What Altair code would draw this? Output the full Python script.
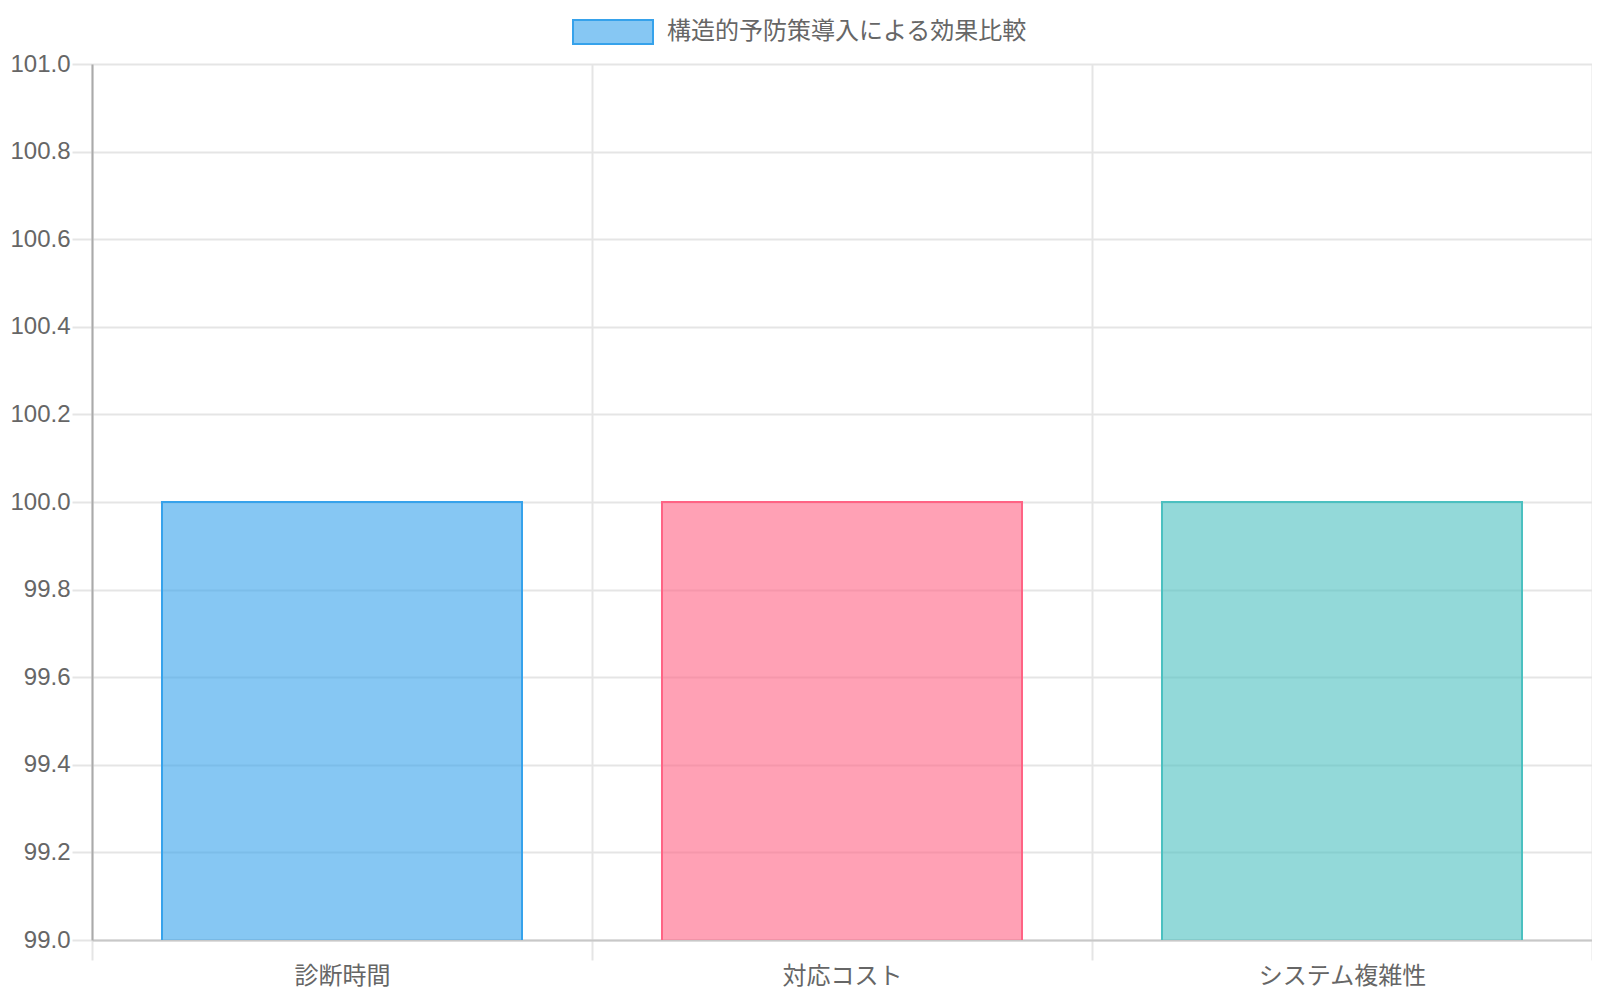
import altair as alt
import pandas as pd

categories = ["診断時間", "対応コスト", "システム複雑性"]
values = [100, 100, 100]
fill_colors = ["rgba(54, 162, 235, 0.6)", "rgba(255, 99, 132, 0.6)", "rgba(75, 192, 192, 0.6)"]
border_colors = ["rgb(54, 162, 235)", "rgb(255, 99, 132)", "rgb(75, 192, 192)"]
series_label = "構造的予防策導入による効果比較"
y_ticks = [99.0, 99.2, 99.4, 99.6, 99.8, 100.0, 100.2, 100.4, 100.6, 100.8, 101.0]
Y_MIN, Y_MAX = 99.0, 101.0

df = pd.DataFrame({
    "category": categories,
    "value": values,
    "fill": fill_colors,
    "stroke": border_colors,
})
legend_df = pd.DataFrame({"series": [series_label]})

FONT = "Liberation Sans, Arial, Noto Sans CJK JP, sans-serif"
GRID = "#e5e5e5"
TEXT = "#666666"

x = alt.X(
    "category:N",
    sort=categories,
    title=None,
    scale=alt.Scale(paddingInner=0, paddingOuter=0),
    axis=alt.Axis(
        labelAngle=0, tickBand="extent", grid=True, gridColor=GRID, gridWidth=2,
        tickSize=20, tickColor=GRID, tickWidth=2,
        domainColor="#c8c8c8", domainWidth=2,
        labelFont=FONT, labelFontSize=24, labelColor=TEXT, labelPadding=4,
    ),
)
y = alt.Y(
    "value:Q",
    title=None,
    scale=alt.Scale(domain=[Y_MIN, Y_MAX], zero=False, nice=False),
    axis=alt.Axis(
        values=y_ticks, format=".1f", grid=True, gridColor=GRID, gridWidth=2,
        tickSize=20, tickColor=GRID, tickWidth=2,
        domainColor="#aaaaaa", domainWidth=2,
        labelFont=FONT, labelFontSize=24, labelColor=TEXT, labelPadding=2,
    ),
)

bars = alt.Chart(df).mark_bar(
    strokeWidth=2, clip=True, width=alt.RelativeBandSize(0.72)
).encode(
    x=x,
    y=y,
    y2=alt.datum(Y_MIN - 0.05),
    fill=alt.Fill("fill:N", scale=None),
    stroke=alt.Stroke("stroke:N", scale=None),
)

leg = alt.Chart(legend_df).mark_point(filled=True, opacity=0).encode(
    color=alt.Color(
        "series:N",
        scale=alt.Scale(range=[fill_colors[0]]),
        legend=alt.Legend(
            title=None, orient="none", legendX=480, legendY=-73,
            symbolType="M-1,-0.3H1V0.3H-1Z", symbolSize=6400,
            symbolFillColor=fill_colors[0], symbolStrokeColor=border_colors[0],
            symbolStrokeWidth=2, symbolOpacity=1,
            labelFont=FONT, labelFontSize=24, labelColor=TEXT, labelOffset=13,
            labelLimit=0, padding=0,
        ),
    )
)

chart = alt.layer(bars, leg).properties(
    width=1500,
    height=876,
    padding={"left": 84, "top": 56, "right": 0, "bottom": 52},
    autosize="none",
).configure_view(stroke=None)

chart.save("out.html", embed_options={"renderer": "svg", "actions": False})
